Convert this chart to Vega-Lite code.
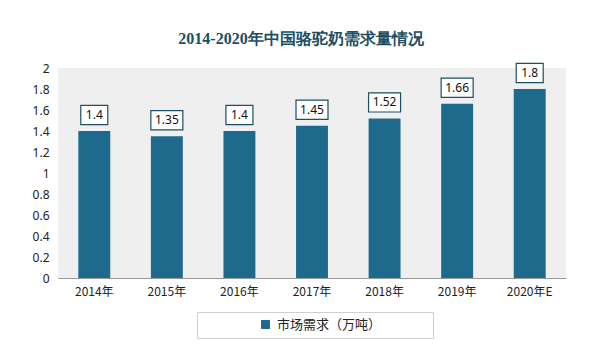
{
  "$schema": "https://vega.github.io/schema/vega-lite/v6.json",
  "width": 508,
  "height": 210,
  "autosize": {"type": "none"},
  "padding": {"left": 58, "top": 68, "right": 35, "bottom": 81},
  "background": "white",
  "title": {
    "text": "2014-2020年中国骆驼奶需求量情况",
    "font": "Liberation Serif",
    "fontSize": 16,
    "fontWeight": "bold",
    "color": "#1d4f63",
    "anchor": "middle",
    "dx": -11,
    "offset": 14
  },
  "data": {
    "values": [
      {"year": "2014年", "value": 1.4, "series": "市场需求（万吨）"},
      {"year": "2015年", "value": 1.35, "series": "市场需求（万吨）"},
      {"year": "2016年", "value": 1.4, "series": "市场需求（万吨）"},
      {"year": "2017年", "value": 1.45, "series": "市场需求（万吨）"},
      {"year": "2018年", "value": 1.52, "series": "市场需求（万吨）"},
      {"year": "2019年", "value": 1.66, "series": "市场需求（万吨）"},
      {"year": "2020年E", "value": 1.8, "series": "市场需求（万吨）"}
    ]
  },
  "encoding": {
    "x": {
      "field": "year",
      "type": "nominal",
      "sort": null,
      "scale": {"paddingInner": 0.56, "paddingOuter": 0.28},
      "axis": {
        "title": null,
        "labelAngle": 0,
        "domain": true,
        "domainColor": "#9a9a9a",
        "domainWidth": 1,
        "ticks": false,
        "labelPadding": 8,
        "labelFont": "Noto Sans CJK SC",
        "labelFontSize": 12,
        "labelColor": "#222222"
      }
    },
    "y": {
      "field": "value",
      "type": "quantitative",
      "scale": {"domain": [0, 2], "nice": false},
      "axis": {
        "title": null,
        "domain": false,
        "ticks": false,
        "grid": false,
        "values": [0, 0.2, 0.4, 0.6, 0.8, 1, 1.2, 1.4, 1.6, 1.8, 2],
        "format": "~g",
        "labelPadding": 9,
        "labelFont": "Noto Sans",
        "labelFontSize": 12,
        "labelColor": "#222222"
      }
    }
  },
  "layer": [
    {
      "mark": {"type": "bar"},
      "encoding": {
        "color": {
          "field": "series",
          "type": "nominal",
          "scale": {"range": ["#1e6a8c"]},
          "legend": {
            "title": null,
            "orient": "none",
            "legendX": 139,
            "legendY": 244,
            "direction": "horizontal",
            "strokeColor": "#cfcfcf",
            "fillColor": "white",
            "padding": 6,
            "symbolType": "square",
            "symbolSize": 80,
            "symbolStrokeWidth": 0,
            "symbolOffset": 56,
            "labelOffset": 5,
            "labelLimit": 400,
            "labelFont": "Noto Sans CJK SC",
            "labelFontSize": 13,
            "labelColor": "#222222",
            "labelExpr": "datum.label + '\u3000\u3000\u3000\u3000\u200b'"
          }
        }
      }
    },
    {
      "transform": [{"filter": "length(toString(datum.value)) <= 3"}],
      "mark": {
        "type": "point",
        "shape": "M-1,-0.72H1V0.72H-1Z",
        "size": 729,
        "filled": true,
        "fill": "white",
        "stroke": "#1d4f63",
        "strokeWidth": 1.2,
        "opacity": 1,
        "yOffset": -16
      }
    },
    {
      "transform": [{"filter": "length(toString(datum.value)) > 3"}],
      "mark": {
        "type": "point",
        "shape": "M-1,-0.6H1V0.6H-1Z",
        "size": 1024,
        "filled": true,
        "fill": "white",
        "stroke": "#1d4f63",
        "strokeWidth": 1.2,
        "opacity": 1,
        "yOffset": -16
      }
    },
    {
      "mark": {
        "type": "text",
        "yOffset": -16,
        "font": "Noto Sans",
        "fontSize": 12,
        "color": "#111111",
        "baseline": "middle"
      },
      "encoding": {"text": {"field": "value", "type": "quantitative"}}
    }
  ],
  "config": {
    "view": {"fill": "#efefef", "stroke": null}
  }
}
